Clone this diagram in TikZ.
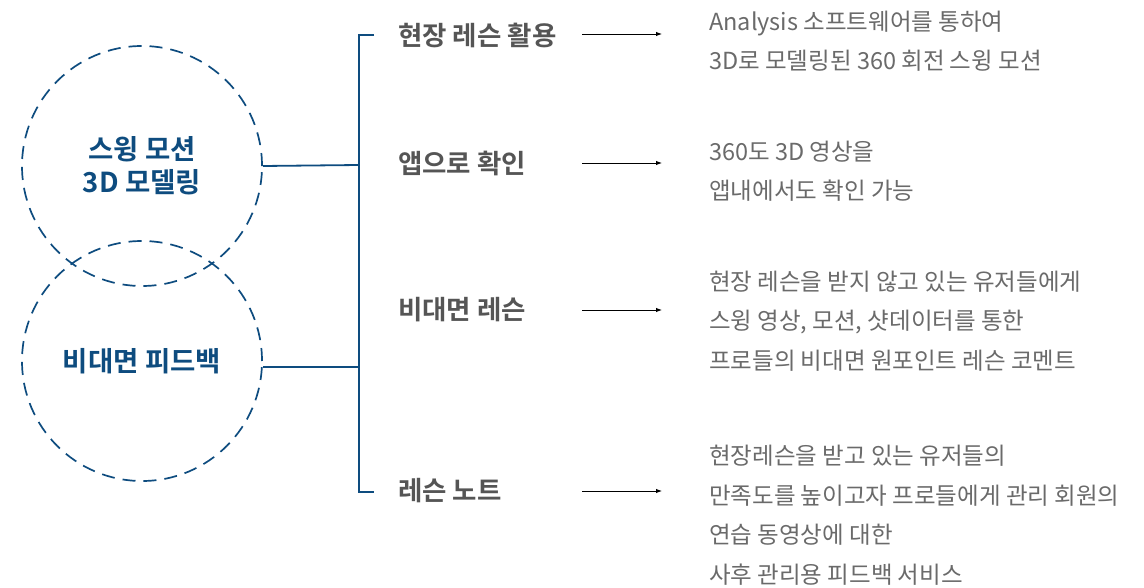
\documentclass[tikz,border=0pt]{standalone}
\usepackage{fontspec}
\setmainfont{Noto Sans CJK KR}
\newfontfamily\krbold{Noto Sans CJK KR Bold}
\usetikzlibrary{arrows.meta}
\definecolor{navy}{HTML}{0E4C7F}
\definecolor{lblgray}{HTML}{555555}
\definecolor{txtgray}{HTML}{6A6A6A}
\tikzset{
  circ/.style={circle, draw=navy, line width=1.7pt, dash pattern=on 13pt off 8pt, minimum size=240pt, inner sep=0pt,
    font=\krbold\fontsize{27.5}{33}\selectfont, text=navy, align=center},
  brk/.style={draw=navy, line width=1.8pt},
  lbl/.style={anchor=west, inner sep=0pt, font=\krbold\fontsize{26.5}{30}\selectfont, text=lblgray},
  desc/.style={anchor=west, inner sep=0pt, font=\fontsize{23.5}{39.5}\selectfont, text=txtgray, align=left},
  arr/.style={draw=black, line width=0.9pt, -{Latex[length=6pt,width=4.5pt]}}
}
\begin{document}
\begin{tikzpicture}[x=1pt,y=-1pt]
\useasboundingbox (0,0) rectangle (1144,588);
\node[circ] (c1) at (142,166) {스윙 모션\\3D 모델링};
\node[circ] (c2) at (142,361) {비대면 피드백};
\coordinate (bt) at (374,35);
\coordinate (bb) at (374,492);
\coordinate (j1) at (359,165);
\coordinate (j2) at (359,367);
\draw[brk] (bt) -- (j1 |- bt) -- (j1 |- bb) -- (bb);
\draw[brk] (c1.east) -- (j1);
\draw[brk] (c2.east |- j2) -- (j2);
\node[lbl] (l1) at (398,35) {현장 레슨 활용};
\node[lbl] (l2) at (398,163) {앱으로 확인};
\node[lbl] (l3) at (398,310) {비대면 레슨};
\node[lbl] (l4) at (398,491) {레슨 노트};
\coordinate (a1s) at (582,34); \coordinate (a1e) at (662,34);
\coordinate (a2s) at (582,163); \coordinate (a2e) at (662,163);
\coordinate (a3s) at (582,310); \coordinate (a3e) at (662,310);
\coordinate (a4s) at (582,491); \coordinate (a4e) at (662,491);
\draw[arr] (a1s) -- (a1e);
\draw[arr] (a2s) -- (a2e);
\draw[arr] (a3s) -- (a3e);
\draw[arr] (a4s) -- (a4e);
\node[desc] (d1) at (709,41) {Analysis 소프트웨어를 통하여\\3D로 모델링된 360 회전 스윙 모션};
\node[desc] (d2) at (709,171) {360도 3D 영상을\\앱내에서도 확인 가능};
\node[desc] (d3) at (709,321) {현장 레슨을 받지 않고 있는 유저들에게\\스윙 영상, 모션, 샷데이터를 통한\\프로들의 비대면 원포인트 레슨 코멘트};
\node[desc] (d4) at (709,515) {현장레슨을 받고 있는 유저들의\\만족도를 높이고자 프로들에게 관리 회원의\\연습 동영상에 대한\\사후 관리용 피드백 서비스};
\end{tikzpicture}
\end{document}
